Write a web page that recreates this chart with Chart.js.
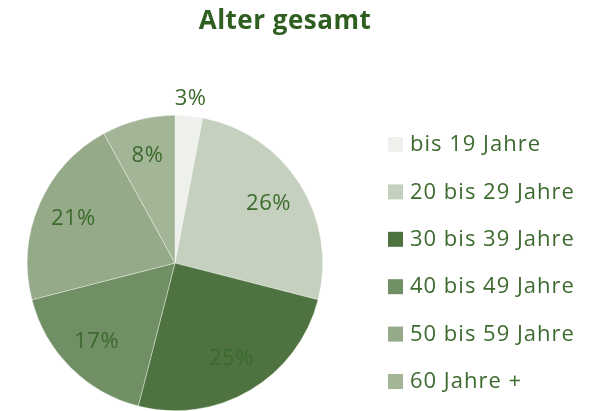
<!DOCTYPE html>
<html>
<head>
<meta charset="utf-8">
<script src="https://cdn.jsdelivr.net/npm/chart.js@4/dist/chart.umd.min.js"></script>
<style>
html,body{margin:0;padding:0;background:#fff;}
#wrap{width:592px;height:411px;position:relative;}
</style>
</head>
<body>
<div id="wrap"><canvas id="c" width="592" height="411"></canvas></div>
<script>
const title = 'Alter gesamt';
const categories = ['bis 19 Jahre','20 bis 29 Jahre','30 bis 39 Jahre','40 bis 49 Jahre','50 bis 59 Jahre','60 Jahre +'];
const values = [3, 26, 25, 17, 21, 8];
const colors = ['#eef0eb','#c5d0bf','#4e7340','#718f64','#94aa88','#a2b596'];
const labelColor = '#3b6a2c';
const FONT = '"Open Sans", "Noto Sans", sans-serif';

const decor = {
  id: 'decor',
  afterDraw(chart) {
    const ctx = chart.ctx;
    ctx.save();
    // title
    ctx.fillStyle = '#2f5f20';
    ctx.font = 'bold 26px ' + FONT;
    ctx.letterSpacing = '0.5px';
    ctx.textAlign = 'center';
    ctx.textBaseline = 'middle';
    ctx.fillText(title, 285, 22);
    // data labels
    const meta = chart.getDatasetMeta(0);
    const total = values.reduce((a, b) => a + b, 0);
    ctx.font = '22px ' + FONT;
    ctx.letterSpacing = '0.5px';
    ctx.fillStyle = labelColor;
    meta.data.forEach((arc, i) => {
      const p = arc.getProps(['x','y','startAngle','endAngle','outerRadius'], true);
      const mid = (p.startAngle + p.endAngle) / 2;
      const f = values[i] / total < 0.05 ? 1.12 : 0.75;
      const x = p.x + Math.cos(mid) * p.outerRadius * f;
      const y = p.y + Math.sin(mid) * p.outerRadius * f;
      ctx.fillText(Math.round(values[i] / total * 100) + '%', x, y);
    });
    // legend
    ctx.textAlign = 'left';
    ctx.font = '22px ' + FONT;
    ctx.letterSpacing = '1px';
    categories.forEach((c, i) => {
      const y = 144 + i * 47.4;
      ctx.fillStyle = colors[i];
      ctx.fillRect(388, y - 7, 15, 15);
      ctx.fillStyle = '#3d6a2f';
      ctx.fillText(c, 410, y + 1);
    });
    ctx.restore();
  }
};

new Chart(document.getElementById('c'), {
  type: 'pie',
  data: {
    labels: categories,
    datasets: [{
      data: values,
      backgroundColor: colors,
      borderColor: 'rgba(255,255,255,0.6)',
      borderWidth: 0.6
    }]
  },
  options: {
    responsive: false,
    animation: false,
    layout: { padding: { left: 27, right: 269, top: 115, bottom: 0 } },
    plugins: {
      legend: { display: false },
      title: { display: false },
      tooltip: { enabled: false }
    }
  },
  plugins: [decor]
});
</script>
</body>
</html>
